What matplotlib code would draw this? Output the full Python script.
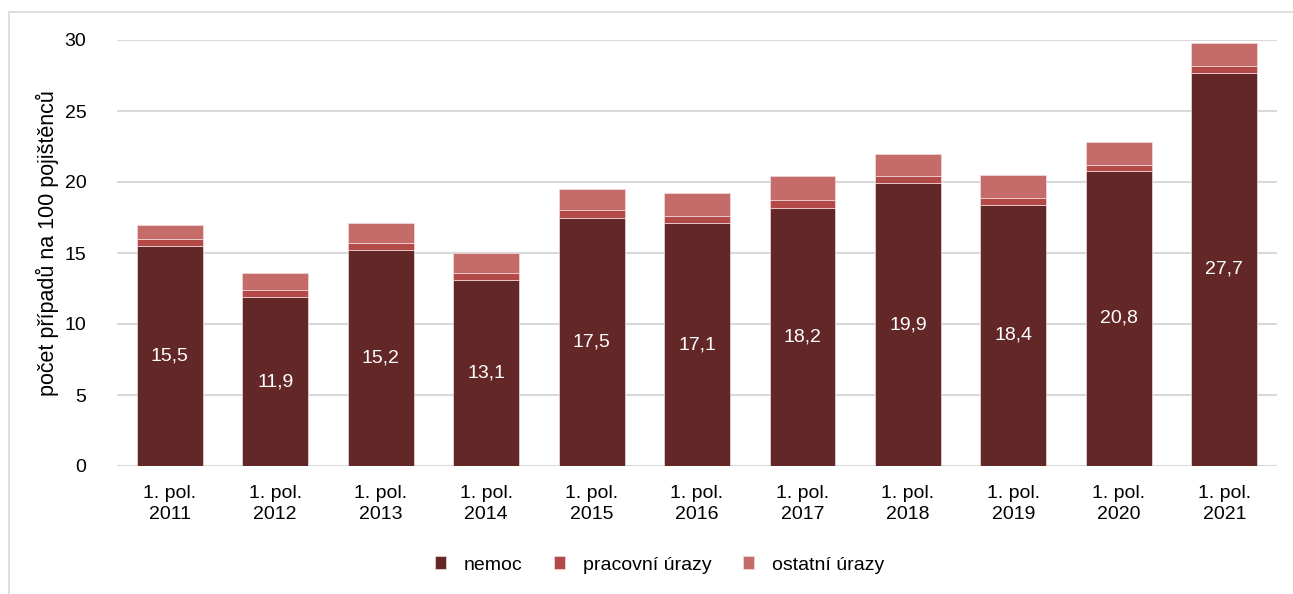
import matplotlib.pyplot as plt
from matplotlib.patches import Rectangle
import numpy as np

plt.rcParams['font.family'] = ['Liberation Sans', 'DejaVu Sans']

# data
roky = ['2011', '2012', '2013', '2014', '2015', '2016', '2017', '2018', '2019', '2020', '2021']
popisky = ['1. pol.\n' + r for r in roky]
nemoc = [15.5, 11.9, 15.2, 13.1, 17.5, 17.1, 18.2, 19.9, 18.4, 20.8, 27.7]
pracovni = [0.5, 0.5, 0.5, 0.5, 0.5, 0.5, 0.5, 0.5, 0.5, 0.4, 0.5]
ostatni = [1.0, 1.2, 1.4, 1.4, 1.5, 1.6, 1.7, 1.6, 1.6, 1.6, 1.6]

W, H = 1293, 594
fig = plt.figure(figsize=(W / 100, H / 100), dpi=100)
ax = fig.add_axes([117 / W, 1 - 466 / H, 1160 / W, 426 / H])

# ramecek kolem grafu
fig.patches.append(Rectangle((9 / W, -0.1), 1.2, 1.1 - 12 / H, transform=fig.transFigure,
                             fill=False, edgecolor='#D9D9D9', linewidth=1.2))

x = np.arange(len(roky))
sirka = 0.625
c1, c2, c3 = '#632728', '#B34A48', '#C56B6A'
ax.bar(x, nemoc, sirka, color=c1, edgecolor='#F2DCDC', linewidth=0.5, label='nemoc', zorder=3)
ax.bar(x, pracovni, sirka, bottom=nemoc, color=c2, edgecolor='#F2DCDC', linewidth=0.5,
       label='pracovní úrazy', zorder=3)
spodek = np.array(nemoc) + np.array(pracovni)
ax.bar(x, ostatni, sirka, bottom=spodek, color=c3, edgecolor='#F2DCDC', linewidth=0.5,
       label='ostatní úrazy', zorder=3)

for i, v in enumerate(nemoc):
    ax.text(i, v / 2, f'{v:.1f}'.replace('.', ','), ha='center', va='center',
            color='white', fontsize=14, zorder=4)

ax.set_xlim(-0.5, len(roky) - 0.5)
ax.set_ylim(0, 30)
ax.set_yticks([0, 5, 10, 15, 20, 25, 30])
ax.set_xticks(x)
ax.set_xticklabels(popisky, fontsize=14, linespacing=1.3)
ax.tick_params(axis='y', labelsize=14, length=0, pad=22)
ax.tick_params(axis='x', length=0, pad=14)
ax.grid(axis='y', color='#D9D9D9', linewidth=1.5, zorder=0)
ax.set_axisbelow(True)
for s in ax.spines.values():
    s.set_visible(False)

fig.text(47 / W, 1 - 243 / H, 'počet případů na 100 pojištěnců', rotation=90,
         ha='center', va='center', fontsize=15.5)

fig.legend(loc='center', bbox_to_anchor=(0.51, 1 - 565 / H), ncol=3, frameon=False,
           fontsize=14, handlelength=0.6, handleheight=0.6, columnspacing=1.6, handletextpad=0.9)

plt.savefig('out.png', dpi=100)
